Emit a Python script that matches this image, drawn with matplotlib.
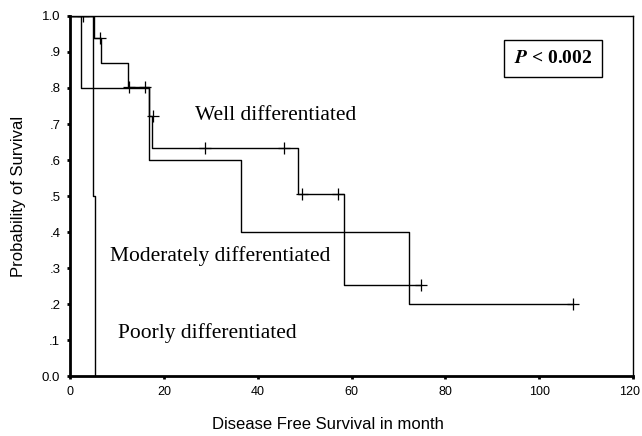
import matplotlib.pyplot as plt
import matplotlib.transforms as mtransforms

plt.rcParams["mathtext.fontset"] = "stix"

# Kaplan-Meier step data (time in months, survival probability)
well_t = [0, 5.2, 6.6, 12.4, 16.9, 17.5, 48.5, 58.4, 74.8]
well_s = [1.0, 0.9375, 0.8705, 0.8036, 0.7232, 0.6328, 0.5063, 0.2531, 0.2531]
well_cens_t = [2.8, 6.4, 12.6, 16.0, 17.7, 28.8, 45.7, 49.4, 57.1, 74.8]
well_cens_s = [1.0, 0.9375, 0.8036, 0.8036, 0.7232, 0.6328, 0.6328, 0.5063, 0.5063, 0.2531]

mod_t = [0, 2.3, 16.9, 36.5, 72.3, 107.3]
mod_s = [1.0, 0.8, 0.6, 0.4, 0.2, 0.2]
mod_cens_t = [107.3]
mod_cens_s = [0.2]

poor_t = [0, 5.0, 5.4]
poor_s = [1.0, 0.5, 0.0]

yticks = [0, .1, .2, .3, .4, .5, .6, .7, .8, .9, 1.0]
ytick_labels = ["0.0", ".1", ".2", ".3", ".4", ".5", ".6", ".7", ".8", ".9", "1.0"]
xticks = [0, 20, 40, 60, 80, 100, 120]

fig = plt.figure(figsize=(6.42, 4.36), dpi=100)
ax = fig.add_axes([70/642, 1 - 376/436, 563/642, 360/436])

for t, s in [(well_t, well_s), (mod_t, mod_s), (poor_t, poor_s)]:
    ax.plot(t, s, drawstyle="steps-post", color="black", lw=1.0)
ax.plot(well_cens_t, well_cens_s, ls="none", marker="+", ms=8, mew=0.9, color="black")
ax.plot(mod_cens_t, mod_cens_s, ls="none", marker="+", ms=8, mew=0.9, color="black")

ax.set_xlim(0, 120)
ax.set_ylim(0, 1.0)
ax.set_xticks(xticks)
ax.set_xticklabels([str(x) for x in xticks], fontsize=9, family="Liberation Sans")
ax.set_yticks(yticks)
ax.set_yticklabels(ytick_labels, fontsize=9.5, family="Liberation Sans")
ax.tick_params(direction="out", length=2, width=2, pad=5)

# nudge the last x label left so it stays inside the figure
last = ax.get_xticklabels()[-1]
last.set_transform(last.get_transform() + mtransforms.ScaledTranslation(-3/100, 0, fig.dpi_scale_trans))

for side in ["left", "bottom"]:
    ax.spines[side].set_linewidth(2)
for side in ["right", "top"]:
    ax.spines[side].set_linewidth(1)

ax.set_xlabel("Disease Free Survival in month", fontsize=12, family="Liberation Sans")
ax.set_ylabel("Probability of Survival", fontsize=12, family="Liberation Sans")
ax.xaxis.set_label_coords(0.458, -41/360, transform=ax.transAxes)
ax.yaxis.set_label_coords(-44/563, 0.5, transform=ax.transAxes)

serif = dict(fontsize=15.5, family="Liberation Serif", va="center")
ax.text(26.6, 0.725, "Well differentiated", **serif)
ax.text(8.5, 0.333, "Moderately differentiated", **serif)
ax.text(10.2, 0.12, "Poorly differentiated", **serif)

ax.text(103, 0.882, r"$\mathbfit{P}$" + " < 0.002", ha="center", va="center",
        fontsize=14, family="Liberation Serif", fontweight="bold",
        bbox=dict(boxstyle="square,pad=0.5", fc="white", ec="black", lw=1))

fig.savefig("out.png", dpi=100)
